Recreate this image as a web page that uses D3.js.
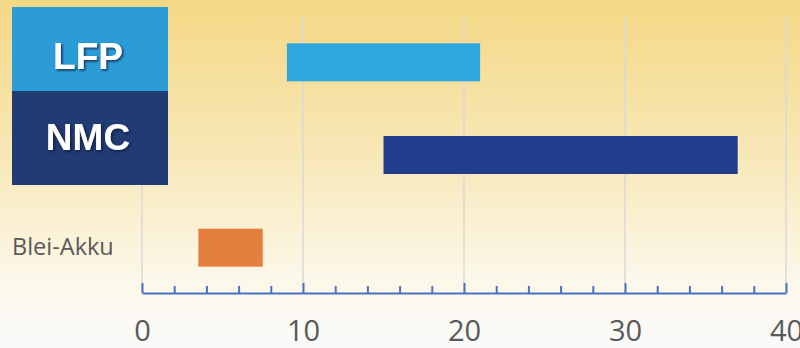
<!DOCTYPE html>
<html>
<head>
<meta charset="utf-8">
<script src="https://cdn.jsdelivr.net/npm/d3@7"></script>
<style>
  body { margin: 0; background: #fafafa; }
  svg { display: block; }
</style>
</head>
<body>
<script>
// data
const categories = ["LFP", "NMC", "Blei-Akku"];
const startValues = [9, 15, 3.5];
const endValues = [21, 37, 7.5];
const barColors = ["#2ea8de", "#233d8e", "#e57f3e"];
const xTicks = [0, 10, 20, 30, 40];

const W = 800, H = 348;
const margin = { top: 16, right: 15, bottom: 55, left: 142 };

const svg = d3.select("body").append("svg")
    .attr("width", W)
    .attr("height", H);

// background gradient
const defs = svg.append("defs");
const grad = defs.append("linearGradient")
    .attr("id", "bg").attr("x1", 0).attr("y1", 0).attr("x2", 0).attr("y2", 1);
grad.append("stop").attr("offset", "0%").attr("stop-color", "#f4d885");
grad.append("stop").attr("offset", "45%").attr("stop-color", "#f8e8b8");
grad.append("stop").attr("offset", "80%").attr("stop-color", "#fcf8e9");
grad.append("stop").attr("offset", "100%").attr("stop-color", "#fafafa");

const shadow = defs.append("filter").attr("id", "shadow")
    .attr("x", "-20%").attr("y", "-20%").attr("width", "140%").attr("height", "140%");
shadow.append("feDropShadow")
    .attr("dx", 1.5).attr("dy", 1.5).attr("stdDeviation", 1)
    .attr("flood-color", "#0a1a3a").attr("flood-opacity", 0.8);

svg.append("rect").attr("width", W).attr("height", H).attr("fill", "url(#bg)");

const x = d3.scaleLinear().domain([0, 40]).range([margin.left, W - margin.right + 1]);
const y = d3.scalePoint().domain(categories).range([margin.top, 294]).padding(0.5);
const axisY = 293;
const barH = 38;

// gridlines
svg.append("g").selectAll("line")
  .data(xTicks)
  .join("line")
    .attr("x1", d => x(d)).attr("x2", d => x(d))
    .attr("y1", margin.top).attr("y2", axisY)
    .attr("stroke", "#d9d9d9")
    .attr("stroke-width", 1.5);

// bars
const rows = categories.map((c, i) => ({ cat: c, s: startValues[i], e: endValues[i], color: barColors[i] }));
svg.append("g").selectAll("rect")
  .data(rows)
  .join("rect")
    .attr("x", d => x(d.s))
    .attr("y", d => y(d.cat) - barH / 2)
    .attr("width", d => x(d.e) - x(d.s))
    .attr("height", barH)
    .attr("fill", d => d.color);

// x axis
const xAxis = d3.axisBottom(x)
    .tickValues(d3.range(0, 41, 2))
    .tickSize(0)
    .tickFormat(d => xTicks.includes(d) ? d : "");

const ax = svg.append("g")
    .attr("transform", `translate(0, ${axisY})`)
    .call(xAxis);
ax.select(".domain").attr("stroke", "#4a72c0").attr("stroke-width", 2);
ax.selectAll(".tick line")
    .attr("stroke", "#4a72c0")
    .attr("stroke-width", 2)
    .attr("y2", d => xTicks.includes(d) ? -10 : -7);
ax.selectAll(".tick text")
    .attr("y", 48)
    .attr("dy", 0)
    .attr("font-family", "'Open Sans', sans-serif")
    .attr("font-size", 29)
    .attr("fill", "#595959");

// category labels
const boxes = [
  { name: "LFP", y0: 7, y1: 91, fill: "#2b9cd6", ty: 69 },
  { name: "NMC", y0: 91, y1: 185, fill: "#213b73", ty: 150 }
];
const lab = svg.append("g");
lab.selectAll("rect")
  .data(boxes)
  .join("rect")
    .attr("x", 12).attr("width", 156)
    .attr("y", d => d.y0).attr("height", d => d.y1 - d.y0)
    .attr("fill", d => d.fill);
lab.selectAll("text")
  .data(boxes)
  .join("text")
    .attr("x", 88)
    .attr("y", d => d.ty)
    .attr("text-anchor", "middle")
    .attr("font-family", "'Liberation Sans', Arial, sans-serif")
    .attr("font-weight", "bold")
    .attr("font-size", 37)
    .attr("fill", "#ffffff")
    .attr("filter", "url(#shadow)")
    .text(d => d.name);

svg.append("text")
    .attr("x", 12)
    .attr("y", y("Blei-Akku") + 7)
    .attr("font-family", "'Open Sans', sans-serif")
    .attr("font-size", 23.5)
    .attr("fill", "#595959")
    .text("Blei-Akku");
</script>
</body>
</html>
